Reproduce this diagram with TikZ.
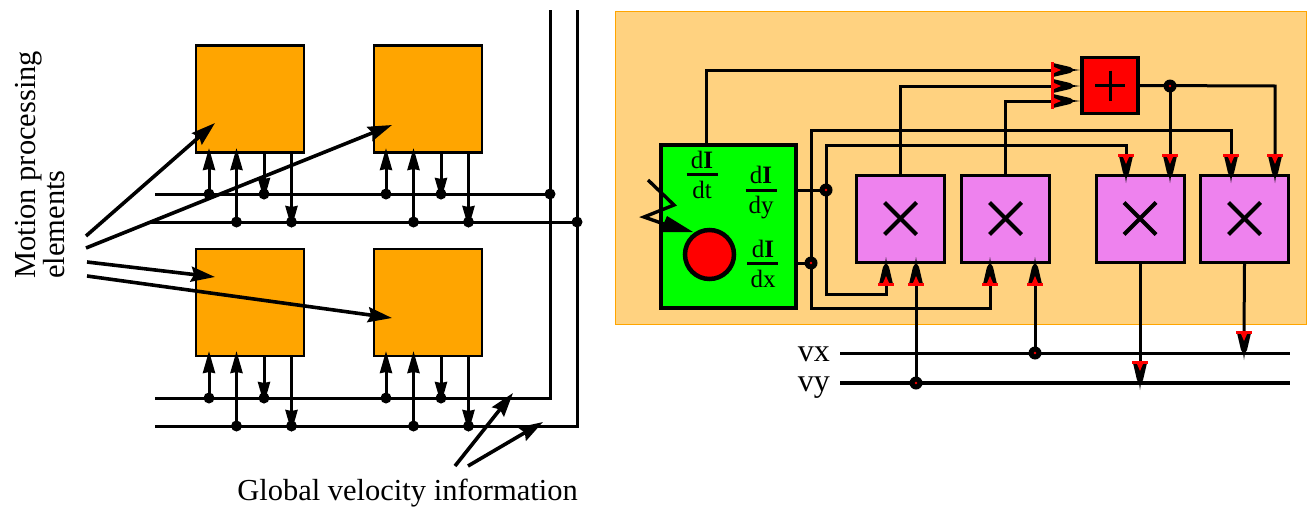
\documentclass[tikz,border=0pt]{standalone}
\usepackage{fontspec}
\setmainfont{Liberation Serif}
\usetikzlibrary{arrows.meta}
\definecolor{boxorange}{HTML}{FFA500}
\definecolor{panel}{HTML}{FFD280}
\definecolor{mulviolet}{HTML}{EE82EE}
\tikzset{
  x=1pt,y=-1pt,
  unit/.style={draw=black,line width=2.5pt,fill=boxorange,inner sep=0pt,minimum width=108pt,minimum height=107pt},
  mulbox/.style={draw=black,line width=3pt,fill=mulviolet,inner sep=0pt,minimum width=88pt,minimum height=87pt},
  addbox/.style={draw=black,line width=3.5pt,fill=red,inner sep=0pt,minimum width=56pt,minimum height=56pt},
  bus/.style={draw=black,line width=3pt},
  wire/.style={draw=black,line width=3pt},
  dot/.style={circle,fill=black,inner sep=0pt,minimum size=11pt},
  rdot/.style={circle,fill=black,inner sep=0pt,minimum size=13pt,path picture={\fill[red] (path picture bounding box.center) circle (1.3pt);}},
  longarrow/.style={draw=black,line width=3.6pt,-{Stealth[length=24pt,width=15pt,inset=3pt]}},
  tinyarrow/.style={draw=black,line width=3pt,-{Stealth[length=22pt,width=12pt,inset=1pt]}},
  lab/.style={inner sep=0pt,anchor=base,font=\fontsize{25}{25}\selectfont},
  fracbar/.style={draw=black,line width=3pt},
  pics/redhead/.style={code={
    \fill[black] (0,0)--(1,7)--(3,10)--(7,27)--(-7,27)--(-3,10)--(-1,7)--cycle;
    \fill[red] (-8,26)--(8,26)--(8,29)--(-8,29)--cycle;
    \fill[red] (-3,26)--(0,19)--(3,26)--cycle;
  }}
}
\begin{document}
\begin{tikzpicture}
\useasboundingbox (0,0) rectangle (1314,514);
% ---------- left part ----------
\node[unit] (u1) at (250,99) {};
\node[unit] (u2) at (428,99) {};
\node[unit] (u3) at (250,302.5) {};
\node[unit] (u4) at (428,302.5) {};
\coordinate (t1) at (550,10);
\coordinate (t2) at (577,10);
\coordinate (b1) at (550,398);
\coordinate (b2) at (577,426);
\coordinate (a1) at (550,194);
\coordinate (a2) at (577,222);
\coordinate (l1) at (155,194);
\coordinate (l2) at (150,222);
\coordinate (l3) at (155,398);
\coordinate (l4) at (155,426);
\draw[bus] (t1) -- (b1) -- (l3);
\draw[bus] (t2) -- (b2) -- (l4);
\draw[bus] (l1) -- (a1);
\draw[bus] (l2) -- (a2);
\node[dot] at (a1) {};
\node[dot] at (a2) {};
\foreach \xo in {0,177}{
  \foreach \yt/\ya/\yc/\base in {148/194/222/154,351/398/426/357}{
    \coordinate (p1) at (209+\xo,\ya);
    \coordinate (q1) at (209+\xo,\yt);
    \coordinate (p2) at (236.5+\xo,\yc);
    \coordinate (q2) at (236.5+\xo,\yt);
    \coordinate (p3) at (264+\xo,\base);
    \coordinate (q3) at (264+\xo,\ya+6);
    \coordinate (p4) at (291.5+\xo,\base);
    \coordinate (q4) at (291.5+\xo,\yc+6);
    \draw[tinyarrow] (p1) -- (q1);
    \draw[tinyarrow] (p2) -- (q2);
    \draw[tinyarrow] (p3) -- (q3);
    \draw[tinyarrow] (p4) -- (q4);
    \node[dot] at (p1) {};
    \node[dot] at (p2) {};
    \node[dot] at (264+\xo,\ya) {};
    \node[dot] at (291.5+\xo,\yc) {};
  }
}
\coordinate (s1) at (86,236);
\coordinate (s2) at (86,248);
\coordinate (s3) at (87,262);
\coordinate (s4) at (87,276);
\coordinate (e1) at (215,123);
\coordinate (e2) at (392,125);
\coordinate (e3) at (215,277);
\coordinate (e4) at (392,318);
\draw[longarrow] (s1) -- (e1);
\draw[longarrow] (s2) -- (e2);
\draw[longarrow] (s3) -- (e3);
\draw[longarrow] (s4) -- (e4);
\coordinate (g1) at (455,466);
\coordinate (g2) at (468,466);
\coordinate (h1) at (513,393);
\coordinate (h2) at (543,422);
\draw[longarrow] (g1) -- (h1);
\draw[longarrow] (g2) -- (h2);
\node[inner sep=0pt,anchor=base] (gv) at (407.5,500) {\fontsize{30.5}{30.5}\selectfont Global velocity information};
\node[inner sep=0pt,rotate=90,anchor=north west,align=left,font=\fontsize{30.5}{27}\selectfont] (mp) at (15,279) {Motion processing\\elements};
% ---------- right part ----------
\node[draw=boxorange,line width=1pt,fill=panel,minimum width=691pt,minimum height=313pt,inner sep=0pt] (pn) at (960.5,167.5) {};
\node[draw=black,line width=3.2pt,fill=green,minimum width=135pt,minimum height=163pt,inner sep=0pt] (gr) at (728.5,226.5) {};
\node[mulbox] (m1) at (900.5,218.5) {};
\node[mulbox] (m2) at (1005.5,218.5) {};
\node[mulbox] (m3) at (1140,218.5) {};
\node[mulbox] (m4) at (1244.5,218.5) {};
\node[addbox] (ad) at (1110,85.5) {};
\foreach \c in {m1,m2,m3,m4}{
  \draw[line width=4pt] ([shift={(-16,-16)}]\c.center) -- ([shift={(16,16)}]\c.center);
  \draw[line width=4pt] ([shift={(-16,16)}]\c.center) -- ([shift={(16,-16)}]\c.center);
}
\draw[line width=3pt] ([shift={(-15,0)}]ad.center) -- ([shift={(15,0)}]ad.center);
\draw[line width=3pt] ([shift={(0,-15)}]ad.center) -- ([shift={(0,15)}]ad.center);
\node[draw=black,line width=4.5pt,fill=red,circle,minimum size=49pt,inner sep=0pt] (cc) at (709.5,254.5) {};
% derivative labels
\node[lab] (f1n) at (702,168) {d\textbf{I}};
\draw[fracbar] (686.5,174.5) -- (717.5,174.5);
\node[lab] (f1d) at (702,198) {dt};
\node[lab] (f2n) at (761,183) {d\textbf{I}};
\draw[fracbar] (745.5,190) -- (776.5,190);
\node[lab] (f2d) at (761,213) {dy};
\node[lab] (f3n) at (763,257) {d\textbf{I}};
\draw[fracbar] (747,263) -- (778,263);
\node[lab] (f3d) at (763,287) {dx};
% coordinates of junctions and wire corners
\coordinate (j1) at (826,190);
\coordinate (j2) at (811,263);
\coordinate (j3) at (1170,86);
\coordinate (vxl) at (840,353);
\coordinate (vxr) at (1290,353);
\coordinate (vyl) at (840,383);
\coordinate (vyr) at (1290,383);
\coordinate (j4) at (1035,353);
\coordinate (j5) at (916,383);
\draw[line width=3pt] (vxl) -- (vxr);
\draw[line width=3.5pt] (vyl) -- (vyr);
\node[inner sep=0pt,anchor=base east,font=\fontsize{32}{32}\selectfont] (vx) at (830,361) {vx};
\node[inner sep=0pt,anchor=base east,font=\fontsize{32}{32}\selectfont] (vy) at (830,391) {vy};
% adder inputs
\draw[wire] (gr.north -| 706,0) |- (1062,70);
\draw[wire] (m1.north) |- (1062,86);
\draw[wire] (m2.north) |- (1062,101);
\pic[rotate=-90] at (1080,70) {redhead};
\pic[rotate=-90] at (1080,86) {redhead};
\pic[rotate=-90] at (1080,101) {redhead};
% derivative outputs
\draw[wire] (gr.east |- j1) -- (j1);
\draw[wire] (gr.east |- j2) -- (j2);
\draw[wire] (1126,160) -- (1126,145) -- (826,145) -- (826,294) -- (886,294) -- (886,280);
\draw[wire] (1231,160) -- (1231,130) -- (811,130) -- (811,308) -- (990,308) -- (990,280);
\node[rdot] at (j1) {};
\node[rdot] at (j2) {};
% multiplier inputs
\pic[rotate=180] at (1126,183) {redhead};
\pic[rotate=180] at (1231,183) {redhead};
\pic at (886,257) {redhead};
\pic at (990,257) {redhead};
\draw[wire] (j5) -- (916,280);
\pic at (916,257) {redhead};
\draw[wire] (j4) -- (1035,280);
\pic at (1035,257) {redhead};
\node[rdot] at (j5) {};
\node[rdot] at (j4) {};
% adder output
\draw[wire] (ad.east) -- (1275,86) -- (1275,160);
\draw[wire] (j3) -- (1170,160);
\node[rdot] at (j3) {};
\pic[rotate=180] at (1170,183) {redhead};
\pic[rotate=180] at (1275,183) {redhead};
% multiplier outputs
\draw[wire] (m3.south) -- (1140,366);
\pic[rotate=180] at (1140,390) {redhead};
\draw[wire] (m4.south) -- (1244,336);
\pic[rotate=180] at (1244,360) {redhead};
% light ray
\coordinate (z1) at (648,180);
\coordinate (z2) at (674,205);
\coordinate (z3) at (644,217);
\coordinate (z4) at (693,232);
\draw[draw=black,line width=3.4pt,line join=miter] (z1) -- (z2) -- (z3) -- (664,224);
\fill[black] (z4) -- (667,216) -- (660,232) -- cycle;
\end{tikzpicture}
\end{document}
